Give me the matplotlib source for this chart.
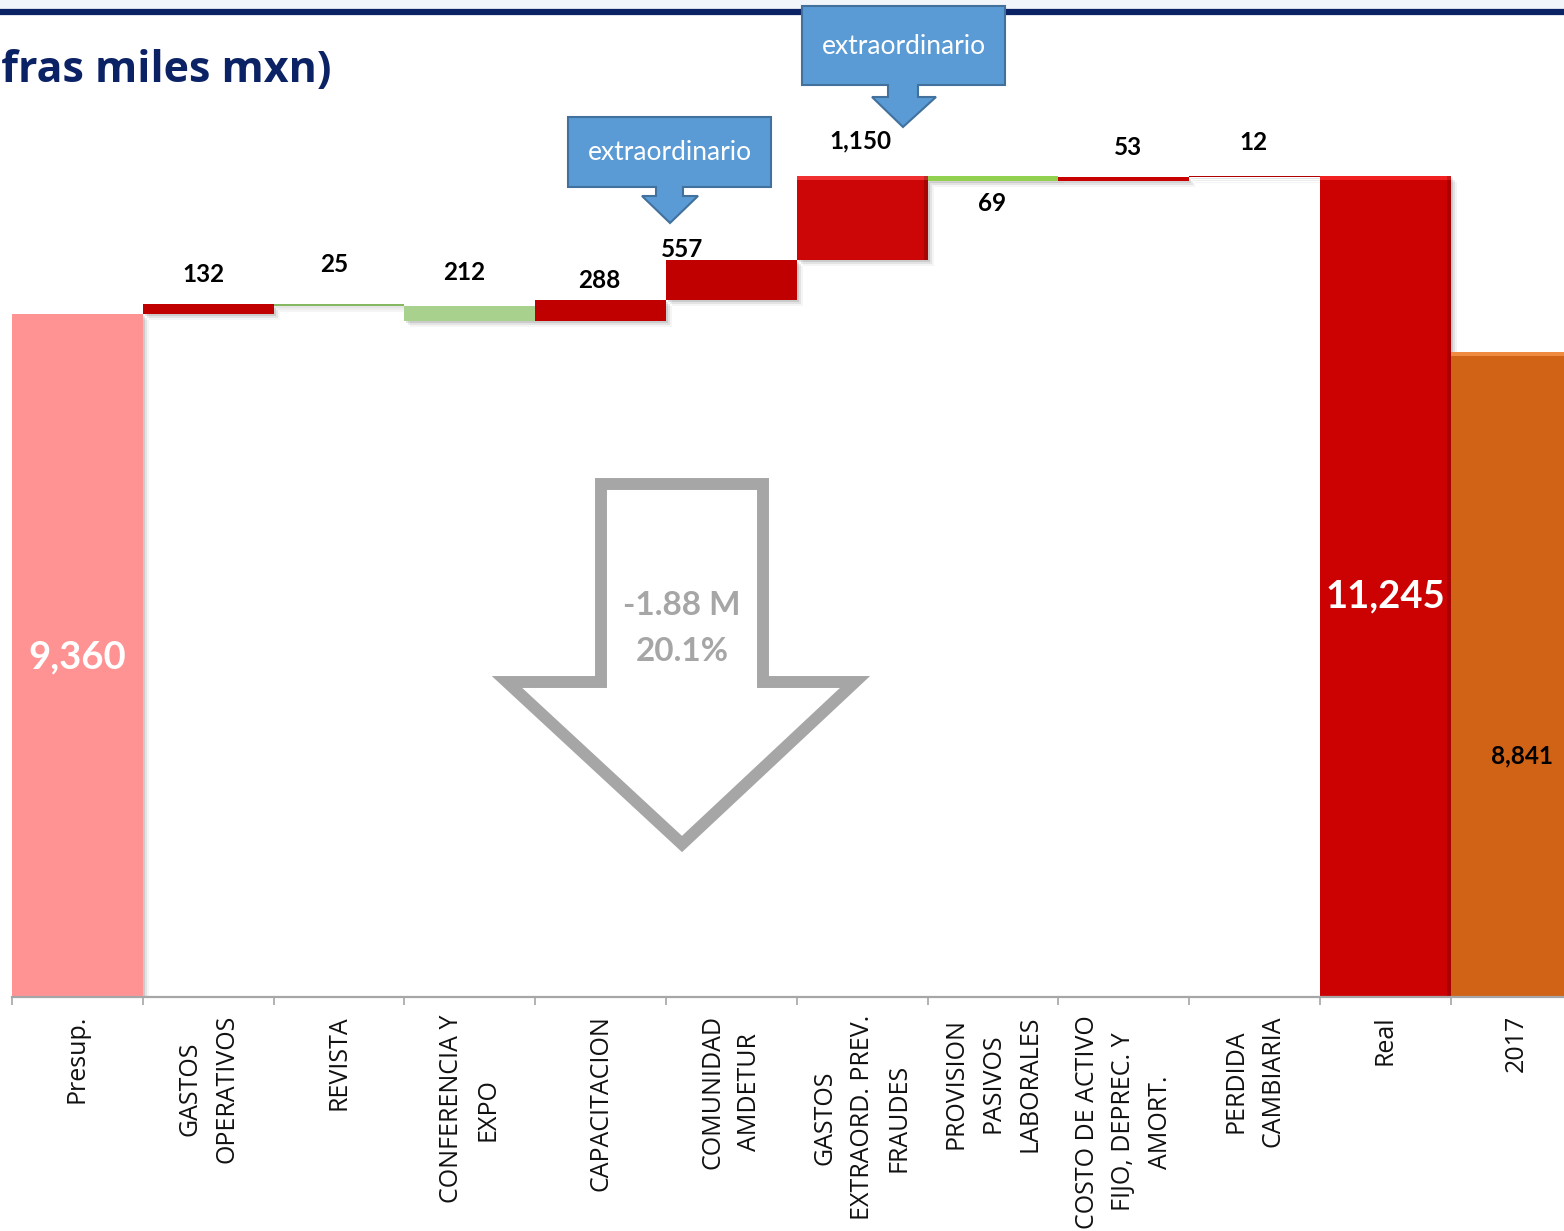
import matplotlib
matplotlib.use("Agg")
import matplotlib.pyplot as plt
from matplotlib.patches import Rectangle, Polygon
from matplotlib.lines import Line2D
import matplotlib.transforms as mtransforms
import numpy as np

# ---------------- data ----------------
categories = ["Presup.", "GASTOS\nOPERATIVOS", "REVISTA", "CONFERENCIA Y\nEXPO",
              "CAPACITACION", "COMUNIDAD\nAMDETUR", "GASTOS\nEXTRAORD. PREV.\nFRAUDES",
              "PROVISION\nPASIVOS\nLABORALES", "COSTO DE ACTIVO\nFIJO, DEPREC. Y\nAMORT.",
              "PERDIDA\nCAMBIARIA", "Real", "2017"]
presupuesto = 9360
deltas = [132, -25, -212, 288, 557, 1150, -69, 53, 12]
delta_labels = ["132", "25", "212", "288", "557", "1,150", "69", "53", "12"]
real = 11245
prev_year = 8841
total_labels = ["9,360", "11,245", "8,841"]
title = "(Cifras miles mxn)"
callout_text = "extraordinario"
arrow_texts = ["-1.88 M", "20.1%"]

# ---------------- styling ----------------
W, H = 1564, 1231
fig = plt.figure(figsize=(W / 100, H / 100), dpi=100)
fig.patch.set_facecolor("white")

def fx(x):
    return x / W

def fy(y):
    return 1 - y / H

px_per_unit = 0.07301
base_px = 997
cat_w = 130.8
ax = fig.add_axes([fx(12), fy(base_px), 12 * cat_w / W, base_px / H])
ax.set_xlim(-0.5, 11.5)
ax.set_ylim(0, base_px / px_per_unit)
ax.patch.set_alpha(0)

# waterfall geometry from data
n = len(categories)
bottoms = [0]
heights = [presupuesto]
cum = presupuesto
for d in deltas:
    bottoms.append(min(cum, cum + d))
    heights.append(abs(d))
    cum += d
bottoms += [0, 0]
heights += [real, prev_year]
x = np.arange(n)

colors = ["#FF9393", "#C00000", "#86B862", "#A9D18E", "#C00000", "#C00000",
          "#CC0606", "#92D050", "#C80000", "#B00000", "#CC0202", "#D16316"]

# soft shadows
for off, a in [(2, 0.10), (4, 0.07), (6, 0.04)]:
    tr = ax.transData + mtransforms.ScaledTranslation(off / 100, -off / 100, fig.dpi_scale_trans)
    for xi, b, h in zip(x, bottoms, heights):
        ax.add_patch(Rectangle((xi - 0.5, b), 1.0, h, facecolor="black", alpha=a,
                               edgecolor="none", transform=tr, zorder=1))

bars = ax.bar(x, heights, bottom=bottoms, width=1.0, color=colors, edgecolor="none", zorder=2)

# bevel highlights on the 3D-styled bars
for i, light in [(6, "#F03030"), (10, "#F02020"), (11, "#F08A40")]:
    top = bottoms[i] + heights[i]
    ax.add_patch(Rectangle((x[i] - 0.5, top - 4 / px_per_unit), 1.0, 4 / px_per_unit,
                           facecolor=light, edgecolor="none", zorder=3))
    ax.add_patch(Rectangle((x[i] + 0.47, bottoms[i]), 0.03, heights[i],
                           facecolor="black", alpha=0.18, edgecolor="none", zorder=3))

# axis styling
for s in ["top", "left", "right"]:
    ax.spines[s].set_visible(False)
ax.spines["bottom"].set_color("#A6A6A6")
ax.spines["bottom"].set_linewidth(1.6)
ax.spines["bottom"].set_zorder(4)
ax.set_yticks([])
ax.set_xticks(x)
ax.set_xticklabels(categories, rotation=90, ha="center", va="top",
                   multialignment="center", fontsize=18, family="Open Sans",
                   color="#111111", linespacing=1.62)
ax.set_xticks(np.arange(-0.5, n, 1.0), minor=True)
ax.tick_params(axis="x", which="major", length=0, pad=13)
ax.tick_params(axis="x", which="minor", length=6, width=1.2, color="#A6A6A6")

# delta labels
lab_font = dict(family="Lato", weight="bold", fontsize=17.5, color="black")
offsets_px = [(-5, 29), (-5, 39), (-6, 33), (-1, 20), (-49, 10), (-2, 35), (-1, -23), (4, 29), (-1, 33)]
cum = presupuesto
for i, (d, lab, (dx, dy)) in enumerate(zip(deltas, delta_labels, offsets_px)):
    lo, hi = min(cum, cum + d), max(cum, cum + d)
    ref = hi if dy > 0 else lo
    ax.annotate(lab, xy=(i + 1, ref), xytext=(dx * 0.72, dy * 0.72),
                textcoords="offset points", ha="center", va="center", zorder=6, **lab_font)
    cum += d

# total labels
ax.annotate(total_labels[0], xy=(0, presupuesto / 2), xytext=(0, -2 * 0.72), textcoords="offset points",
            ha="center", va="center", family="Lato", weight="bold", fontsize=27.5, color="white", zorder=6)
ax.annotate(total_labels[1], xy=(10, real / 2), xytext=(0, -10 * 0.72), textcoords="offset points",
            ha="center", va="center", family="Lato", weight="bold", fontsize=27.5, color="white", zorder=6)
ax.annotate(total_labels[2], xy=(11, prev_year / 2), xytext=(6 * 0.72, -82 * 0.72), textcoords="offset points",
            ha="center", va="center", zorder=6, **lab_font)

# ---------------- figure decorations ----------------
fig.add_artist(Rectangle((0, fy(9)), 1, 9 / H, transform=fig.transFigure,
                         facecolor="#F2F5F9", edgecolor="none", zorder=1))
fig.add_artist(Line2D([0, 1], [fy(12), fy(12)], transform=fig.transFigure,
                      color="#0B2265", lw=4.5, zorder=2))
fig.text(fx(332), fy(82), title, ha="right", va="baseline", family="Open Sans",
         weight="bold", fontsize=31, color="#0B2265", zorder=3)

def callout(x0, x1, y0, y1, s0, s1, sy, h0, h1, tip):
    pts = [(x0, y0), (x1, y0), (x1, y1), (s1, y1), (s1, sy), (h1, sy), tip,
           (h0, sy), (s0, sy), (s0, y1), (x0, y1)]
    pts = [(fx(a), fy(b)) for a, b in pts]
    fig.add_artist(Polygon(pts, closed=True, transform=fig.transFigure, facecolor="#5B9BD5",
                           edgecolor="#41719C", lw=1.5, zorder=5))
    fig.text(fx((x0 + x1) / 2), fy((y0 + y1) / 2 + 1), callout_text, ha="center", va="center",
             family="Lato", fontsize=19, color="white", zorder=6)

callout(568, 771, 117, 187, 656, 683, 196, 642, 698, (670, 223))
callout(802, 1005, 6, 85, 888, 918, 97, 872, 936, (903, 127))

# large hollow down arrow
arr = [(601, 484), (763, 484), (763, 682), (855, 682), (682, 844), (507, 682), (601, 682)]
fig.add_artist(Polygon([(fx(a), fy(b)) for a, b in arr], closed=True, transform=fig.transFigure,
                       facecolor="none", edgecolor="#A6A6A6", lw=8.6, joinstyle="miter", zorder=5))
fig.text(fx(682), fy(606), arrow_texts[0], ha="center", va="center", family="Lato",
         weight="bold", fontsize=24, color="#A6A6A6", zorder=6)
fig.text(fx(682), fy(652), arrow_texts[1], ha="center", va="center", family="Lato",
         weight="bold", fontsize=24, color="#A6A6A6", zorder=6)

fig.savefig("out.png", dpi=100)
